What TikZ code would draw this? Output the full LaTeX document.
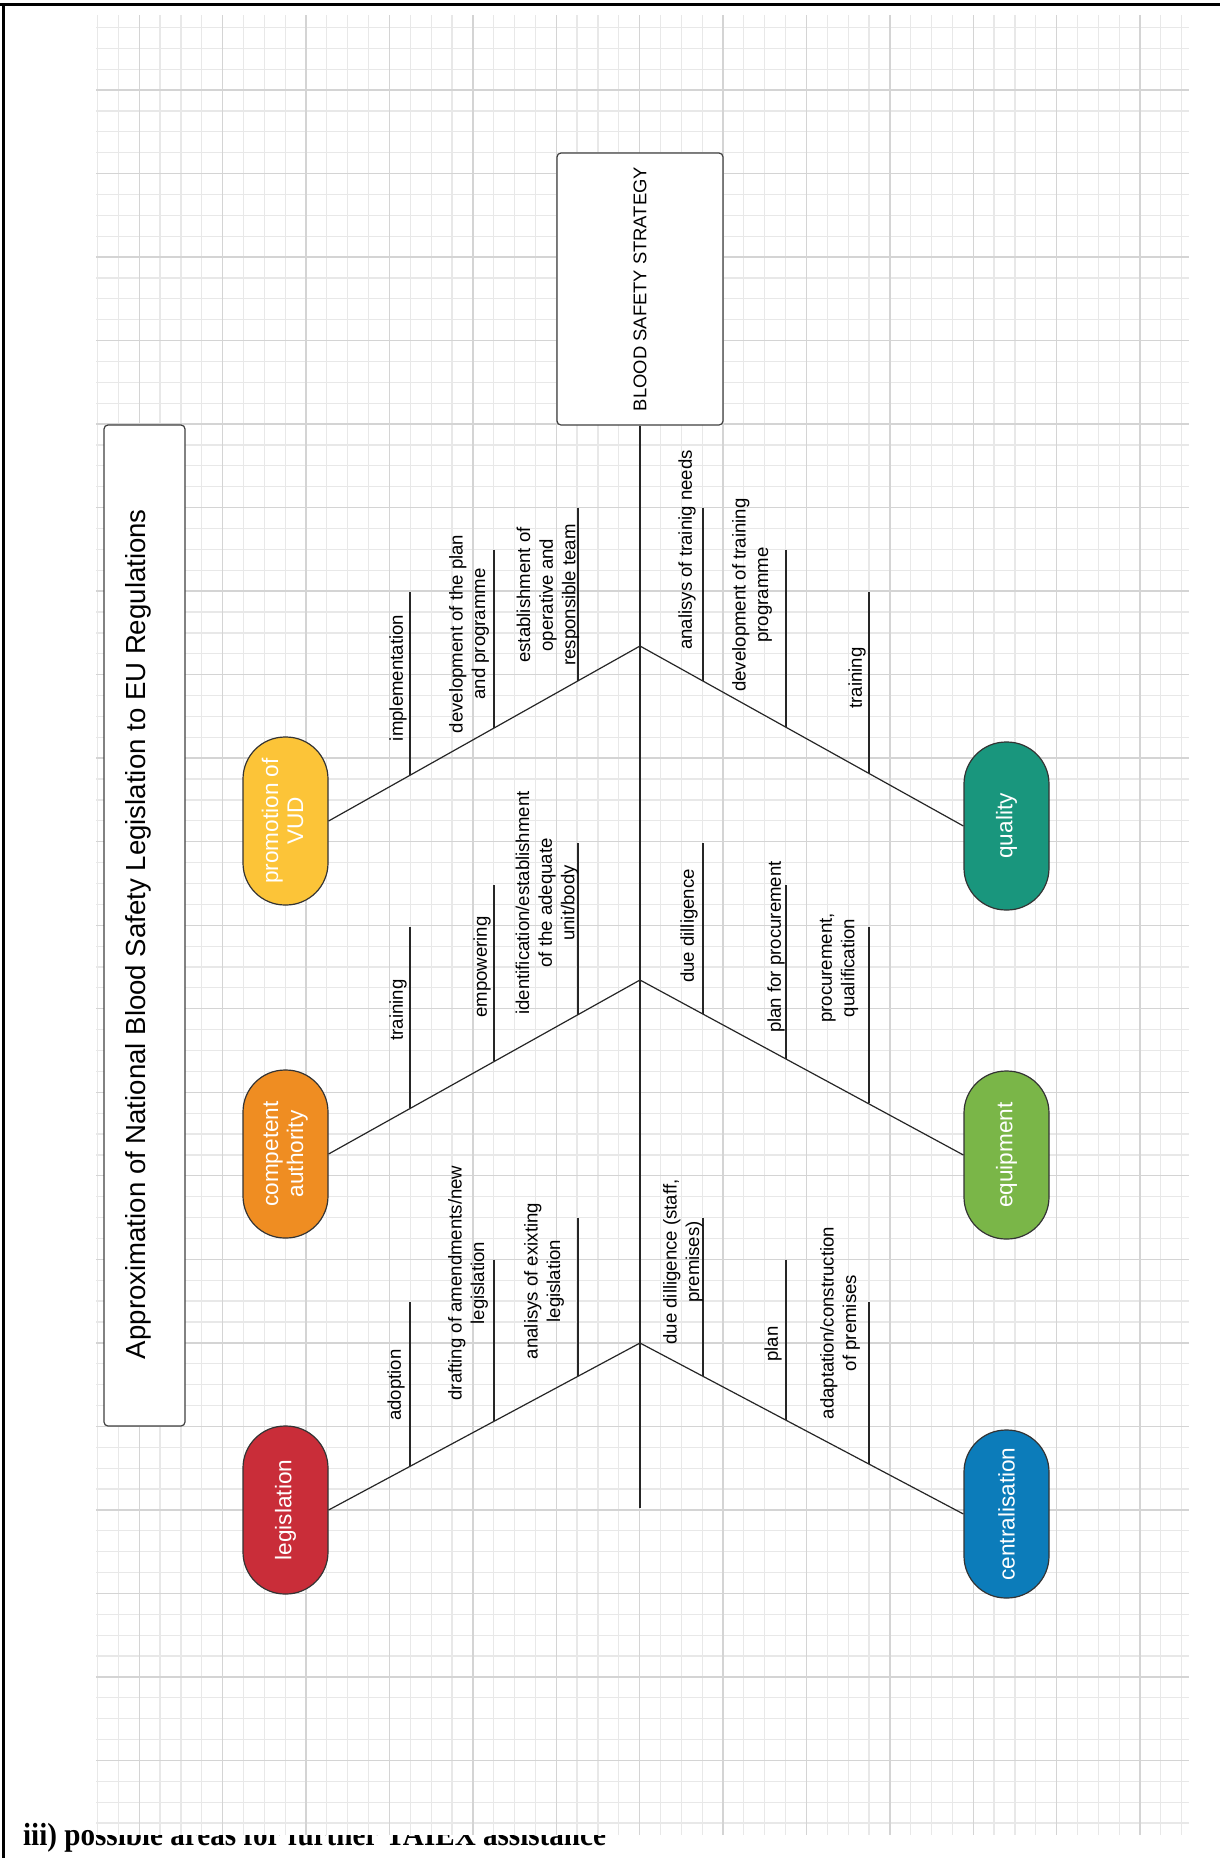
\documentclass[tikz,border=0pt]{standalone}
\usepackage{xcolor}
\definecolor{c92d39}{HTML}{C92D39}
\definecolor{ef8d22}{HTML}{EF8D22}
\definecolor{fcc438}{HTML}{FCC438}
\definecolor{g7ab648}{HTML}{7AB648}
\definecolor{t19967d}{HTML}{19967D}
\definecolor{b0c7cba}{HTML}{0C7CBA}
\usepackage{graphicx}
\usepackage{fontspec}
\setmainfont{Liberation Sans}
\newfontfamily\timesfont{Liberation Serif}
\usepackage{tikz}

\begin{document}
\begin{tikzpicture}[x=0.5pt, y=-0.5pt,
        bubble/.style={draw=black!80, line width=0.6pt, minimum width=42.5pt, minimum height=84pt,
            rounded corners=21pt, inner sep=0pt, text=white, font=\fontsize{11.3}{12.5}\selectfont},
        boxframe/.style={draw=black!75, line width=0.6pt, rounded corners=2pt, inner sep=0pt, fill=white},
        rib/.style={draw=black!85, line width=0.6pt},
        lbl/.style={rotate=90, align=center, inner sep=0pt, font=\fontsize{9.3}{11.3}\selectfont},
        minorline/.style={black!9, line width=0.6pt},
        majorline/.style={black!17, line width=0.7pt}]
            \useasboundingbox (0,0) rectangle (1220,1858);

            \node[anchor=base west, inner sep=0pt, font=\timesfont\bfseries\fontsize{16}{18}\selectfont] (section) at (22.7,1845)
                {\scalebox{0.91}[1]{iii) possible areas for further TAIEX assistance}};

            % grid paper
            \fill[white] (96,15) rectangle (1189,1835);
            \foreach \k in {0,...,52} \draw[minorline] ({97.5+20.85*\k},15) -- ({97.5+20.85*\k},1835);
            \foreach \k in {1,...,87} \draw[minorline] (96,{6.5+20.88*\k}) -- (1189,{6.5+20.88*\k});
            \foreach \k in {2,6,...,50} \draw[majorline] ({97.5+20.85*\k},15) -- ({97.5+20.85*\k},1835);
            \foreach \k in {4,8,...,84} \draw[majorline] (96,{6.5+20.88*\k}) -- (1189,{6.5+20.88*\k});

            \draw[line width=1.5pt] (0,4) -- (1220,4);
            \draw[line width=1.5pt] (3.5,4) -- (3.5,1858);

            \node[boxframe, minimum width=40.5pt, minimum height=500.5pt] (titlebox) at (144.5,925.5) {};
            \node[rotate=90, inner sep=0pt, font=\fontsize{13.8}{16}\selectfont] (title) at (138,934)
                {Approximation of National Blood Safety Legislation to EU Regulations};

            \node[boxframe, minimum width=83pt, minimum height=136pt, font=\fontsize{9.2}{11}\selectfont] (strategy) at (640,289)
                {\rotatebox{90}{BLOOD SAFETY STRATEGY}};
            \coordinate (tail) at (640,1508);
            \draw[rib] (strategy.south) -- (tail);

            \coordinate (j1) at (640,646);
            \coordinate (j2) at (640,980);
            \coordinate (j3) at (640,1343);

            \node[bubble, fill=fcc438] (vud) at (285.5,821)
                {\rotatebox{90}{\begin{tabular}{@{}c@{}}promotion of\\VUD\end{tabular}}};
            \node[bubble, fill=t19967d] (quality) at (1006.5,826) {\rotatebox{90}{quality}};
            \node[bubble, fill=ef8d22] (authority) at (285.5,1154)
                {\rotatebox{90}{\begin{tabular}{@{}c@{}}competent\\authority\end{tabular}}};
            \node[bubble, fill=g7ab648] (equipment) at (1006.5,1155) {\rotatebox{90}{equipment}};
            \node[bubble, fill=c92d39] (legislation) at (285.5,1510) {\rotatebox{90}{legislation}};
            \node[bubble, fill=b0c7cba] (centralisation) at (1006.5,1514) {\rotatebox{90}{centralisation}};

            \draw[rib] (vud.east) -- (j1) -- (quality.west);
            \draw[rib] (authority.east) -- (j2) -- (equipment.west);
            \draw[rib] (legislation.east) -- (j3) -- (centralisation.west);

            % promotion of VUD
            \coordinate (impl) at (410,592);       \coordinate (impl-end) at (410,775);
            \coordinate (devplan) at (494,550);    \coordinate (devplan-end) at (494,728);
            \coordinate (team) at (578,508);       \coordinate (team-end) at (578,681);
            \draw[rib] (impl) -- (impl-end);
            \draw[rib] (devplan) -- (devplan-end);
            \draw[rib] (team) -- (team-end);
            \node[lbl] (implementation) at (398,678) {implementation};
            \node[lbl] (development) at (469,634) {development of the plan\\and programme};
            \node[lbl] (establishment) at (548,595) {establishment of\\operative and\\responsible team};

            % quality
            \coordinate (needs) at (703,508);      \coordinate (needs-end) at (703,681);
            \coordinate (devtrain) at (786,550);   \coordinate (devtrain-end) at (786,727);
            \coordinate (qtrain) at (869,592);     \coordinate (qtrain-end) at (869,773);
            \draw[rib] (needs) -- (needs-end);
            \draw[rib] (devtrain) -- (devtrain-end);
            \draw[rib] (qtrain) -- (qtrain-end);
            \node[lbl] (analysis) at (687,550) {analisys of trainig needs};
            \node[lbl] (programme) at (752,595) {development of training\\programme};
            \node[lbl] (training) at (857,678) {training};

            % competent authority
            \coordinate (atrain) at (410,927);     \coordinate (atrain-end) at (410,1108);
            \coordinate (empower) at (494,885);    \coordinate (empower-end) at (494,1061);
            \coordinate (unit) at (578,843);       \coordinate (unit-end) at (578,1015);
            \draw[rib] (atrain) -- (atrain-end);
            \draw[rib] (empower) -- (empower-end);
            \draw[rib] (unit) -- (unit-end);
            \node[lbl] (atraining) at (398,1010) {training};
            \node[lbl] (empowering) at (482,967) {empowering};
            \node[lbl] (identification) at (547,903) {identification/establishment\\of the adequate\\unit/body};

            % equipment
            \coordinate (diligence) at (703,843);  \coordinate (diligence-end) at (703,1014);
            \coordinate (procplan) at (786,885);   \coordinate (procplan-end) at (786,1059);
            \coordinate (procure) at (869,927);    \coordinate (procure-end) at (869,1103);
            \draw[rib] (diligence) -- (diligence-end);
            \draw[rib] (procplan) -- (procplan-end);
            \draw[rib] (procure) -- (procure-end);
            \node[lbl] (duediligence) at (689,926) {due dilligence};
            \node[lbl] (planprocurement) at (776,947) {plan for procurement};
            \node[lbl] (procurement) at (839,968) {procurement,\\qualification};

            % legislation
            \coordinate (adopt) at (410,1302);     \coordinate (adopt-end) at (410,1466);
            \coordinate (draft) at (494,1260);     \coordinate (draft-end) at (494,1421);
            \coordinate (exist) at (578,1218);     \coordinate (exist-end) at (578,1376);
            \draw[rib] (adopt) -- (adopt-end);
            \draw[rib] (draft) -- (draft-end);
            \draw[rib] (exist) -- (exist-end);
            \node[lbl] (adoption) at (396,1385) {adoption};
            \node[lbl] (drafting) at (468,1283) {drafting of amendments/new\\legislation};
            \node[lbl] (existing) at (544,1281) {analisys of exixting\\legislation};

            % centralisation
            \coordinate (staff) at (703,1218);     \coordinate (staff-end) at (703,1376);
            \coordinate (plan) at (786,1260);      \coordinate (plan-end) at (786,1420);
            \coordinate (adapt) at (869,1302);     \coordinate (adapt-end) at (869,1464);
            \draw[rib] (staff) -- (staff-end);
            \draw[rib] (plan) -- (plan-end);
            \draw[rib] (adapt) -- (adapt-end);
            \node[lbl] (premisesdd) at (683,1262) {due dilligence (staff,\\premises)};
            \node[lbl] (planning) at (773,1344) {plan};
            \node[lbl] (adaptation) at (840,1323) {adaptation/construction\\of premises};
        \end{tikzpicture}
\end{document}
